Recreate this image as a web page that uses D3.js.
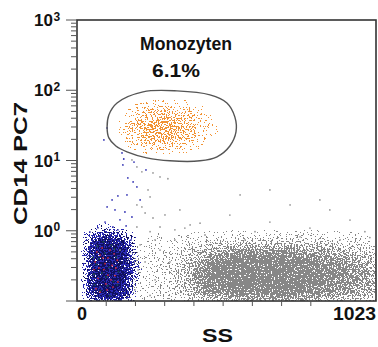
<!DOCTYPE html>
<html>
<head>
<meta charset="utf-8">
<title>Monozyten</title>
<script src="https://cdn.jsdelivr.net/npm/d3@7"></script>
<style>
body { margin: 0; background: #fff; }
text { font-family: "Liberation Sans", Arial, sans-serif; font-weight: bold; fill: #111; }
</style>
</head>
<body>
<script>
var width = 378, height = 347;

// ---- data ----
// density cells: one string per row, one digit (0-9) per SS bin of 32 units,
// rows are 0.1 decade of CD14 starting at rowStart (row 0 = 10^-1 .. 10^-0.9)
var binWidth = 32, rowHeight = 0.1;

var grayStart = 0;
var grayRows = [
  "00000111122345668888888877665544",
  "00000111223457889999999988776655",
  "00000111223468999999999998877665",
  "00000111223468999999999999887766",
  "00000111223468999999999999887766",
  "00000111223457899999999988777655",
  "00000111122345678888888877665544",
  "00000011112234456666666655544332",
  "00000001111122233333333333322221",
  "00000000101011111111111111111110"
];

var blueStart = 0;
var blueRows = [
  "0488740",
  "0699950",
  "0699960",
  "0699961",
  "0699971",
  "0699961",
  "0699960",
  "0699960",
  "0489740",
  "0256410",
  "0011000"
];

var orangeStart = 21;
var orangeRows = [
  "00000012332210000",
  "00000246776531000",
  "00001368998653100",
  "00001479999764210",
  "00001368998753100",
  "00000246776542100",
  "00000123443321000",
  "00000001111100000"
];

// single events [SS, CD14]
var redPts = [[62,0.36],[79,0.45],[92,0.28],[106,0.41],[120,0.32],[72,0.21],[99,0.175],[130,0.23],
  [86,0.57],[113,0.53],[65,0.15],[138,0.38],[96,0.34],[79,0.134],[123,0.158],[106,0.234],[58,0.28],
  [140,0.187],[89,0.41],[116,0.2],[75,0.295],[133,0.295],[103,0.144],[68,0.5],[127,0.47]];
var tealPts = [[55,0.42],[70,0.6],[85,0.25],[110,0.3],[125,0.19],[60,0.17],[95,0.48],[135,0.42],
  [80,0.14],[118,0.62],[100,0.22],[66,0.33],[142,0.26],[90,0.7],[112,0.12],[75,0.4],[128,0.55],
  [105,0.165],[58,0.24],[138,0.17]];
var bluePts = [[154,12.8],[157,8.65],[205,4.2],[171,3.24],[140,3.13],[103,2.18],[188,1.57],[147,1.43],
  [123,1.13],[79,0.82],[113,0.87],[103,29],[92,19.6],[174,5.65],[130,1.98],[216,2.75],[160,10.5],[195,9.5],
  [72,1.1],[96,1.33],[140,1.03],[164,1.85],[120,2.75],[192,4.96],[236,7.35],[168,1.17],[44,0.96],[185,0.74]];
var grayPts = [[188,10.2],[205,8.1],[222,6.9],[260,6.65],[284,5.84],[311,5.5],[243,3.81],[250,3.03],
  [205,2.33],[222,2.18],[233,1.79],[260,1.52],[205,1.13],[284,1.13],[335,1.03],[387,1.21],[523,1.67],
  [660,1.33],[797,1.09],[934,1.42],[985,0.97],[609,0.97],[438,0.87],[865,1.98],[729,2.33],[558,3.24],
  [352,1.98],[267,0.74],[301,1.68],[335,0.74],[369,1.09],[250,0.97],[216,0.63],[284,0.53],[233,0.36],
  [267,0.2],[198,0.144],[318,0.36],[421,1.28],[575,0.74],[763,0.82],[900,0.74],[1002,0.8],[831,2.75],
  [660,3.81],[147,0.53],[209,0.277],[250,0.12]];

// gate drawn round the monocytes
var gate = [[103,30.1],[109,21],[133,16.1],[171,13.3],[239,10.9],[318,9.9],[421,9.9],[479,11.3],
  [523,16.1],[544,25.5],[540,41.8],[513,66],[455,86],[342,98],[226,95],[137,66],[109,44.6]];

var xTicks = [100, 200, 300, 400, 500, 600, 700, 800];
var yLabels = [0, 1, 2, 3];

// ---- scales ----
var x = d3.scaleLinear().domain([0, 1023]).range([77, 376]);
var y = d3.scaleLog().domain([0.1, 1000]).range([301, 20]);

var svg = d3.select("body").append("svg")
    .attr("width", width)
    .attr("height", height);
var defs = svg.append("defs");

defs.append("clipPath").attr("id", "plot")
  .append("rect")
    .attr("x", x(0)).attr("y", y(1000))
    .attr("width", x(1023) - x(0)).attr("height", y(0.1) - y(1000));

// blurred density -> speckled dots (noise threshold), only where density exists
var onTable = "0 " + d3.range(19).map(function() { return 1; }).join(" ");
function speckle(id, color, seed, blur) {
  var f = defs.append("filter").attr("id", id)
      .attr("filterUnits", "userSpaceOnUse")
      .attr("x", 0).attr("y", 0).attr("width", width).attr("height", height)
      .attr("color-interpolation-filters", "sRGB");
  f.append("feGaussianBlur").attr("in", "SourceAlpha").attr("stdDeviation", blur).attr("result", "d");
  f.append("feComponentTransfer").attr("in", "d").attr("result", "mask")
    .append("feFuncA").attr("type", "discrete").attr("tableValues", onTable);
  f.append("feTurbulence").attr("type", "fractalNoise").attr("baseFrequency", 0.65)
      .attr("numOctaves", 2).attr("seed", seed).attr("result", "t");
  f.append("feColorMatrix").attr("in", "t").attr("type", "matrix")
      .attr("values", "0 0 0 0 0  0 0 0 0 0  0 0 0 0 0  1 0 0 0 0").attr("result", "n");
  f.append("feComposite").attr("in", "d").attr("in2", "n").attr("operator", "arithmetic")
      .attr("k1", 0).attr("k2", 1).attr("k3", 2.4).attr("k4", -1.2).attr("result", "s");
  f.append("feComponentTransfer").attr("in", "s").attr("result", "m")
    .append("feFuncA").attr("type", "discrete").attr("tableValues", "0 1");
  f.append("feComposite").attr("in", "m").attr("in2", "mask").attr("operator", "in").attr("result", "mm");
  f.append("feFlood").attr("flood-color", color);
  f.append("feComposite").attr("in2", "mm").attr("operator", "in");
}

function cells(rows, start) {
  var out = [];
  rows.forEach(function(r, j) {
    for (var i = 0; i < r.length; i++) {
      var v = +r[i];
      if (v > 0) out.push({i: i, row: start + j, v: v});
    }
  });
  return out;
}

function population(rows, start, color, seed, blur, gain) {
  var id = "spk" + seed;
  speckle(id, color, seed, blur);
  var g = svg.append("g").attr("clip-path", "url(#plot)")
    .append("g").attr("filter", "url(#" + id + ")");
  g.selectAll("rect")
      .data(cells(rows, start))
    .enter().append("rect")
      .attr("shape-rendering", "crispEdges")
      .attr("x", function(d) { return x(d.i * binWidth); })
      .attr("width", function(d) { return x((d.i + 1) * binWidth) - x(d.i * binWidth); })
      .attr("y", function(d) { return y(Math.pow(10, -1 + (d.row + 1) * rowHeight)); })
      .attr("height", function(d) {
        return y(Math.pow(10, -1 + d.row * rowHeight)) - y(Math.pow(10, -1 + (d.row + 1) * rowHeight));
      })
      .attr("fill", "#000")
      .attr("fill-opacity", function(d) { return d.v / 9 * gain; });
}

population(grayRows, grayStart, "#878787", 3, 4, 0.88);
population(blueRows, blueStart, "#2a2ab4", 7, 3, 1.0);
population(blueRows, blueStart, "#10105e", 11, 3, 0.6);
population(orangeRows, orangeStart, "#f29232", 5, 3.5, 0.5);

function dots(data, color, r) {
  svg.append("g").attr("clip-path", "url(#plot)")
    .selectAll("circle")
      .data(data)
    .enter().append("circle")
      .attr("cx", function(d) { return x(d[0]); })
      .attr("cy", function(d) { return y(d[1]); })
      .attr("r", r)
      .attr("fill", color);
}
dots(grayPts, "#9a9a9a", 0.9);
dots(bluePts, "#3434b4", 0.9);
dots(tealPts, "#1c4a4a", 1);
dots(redPts, "#d42a3a", 0.9);

// gate
svg.append("path")
    .datum(gate)
    .attr("d", d3.line()
      .x(function(d) { return x(d[0]); })
      .y(function(d) { return y(d[1]); })
      .curve(d3.curveCatmullRomClosed))
    .attr("fill", "none")
    .attr("stroke", "#555")
    .attr("stroke-width", 1.4);

// frame
svg.append("rect")
    .attr("x", x(0)).attr("y", y(1000))
    .attr("width", x(1023) - x(0)).attr("height", y(0.1) - y(1000))
    .attr("fill", "none")
    .attr("stroke", "#333")
    .attr("stroke-width", 1.6);

// y ticks (log, outside left)
var yt = y.ticks();
svg.append("g").selectAll("line")
    .data(yt)
  .enter().append("line")
    .attr("x1", function(d) {
      var major = Math.abs(Math.log10(d) - Math.round(Math.log10(d))) < 1e-6;
      return x(0) - (major ? 11 : 6);
    })
    .attr("x2", x(0))
    .attr("y1", function(d) { return y(d); })
    .attr("y2", function(d) { return y(d); })
    .attr("stroke", "#555")
    .attr("stroke-width", 1);

// x ticks
svg.append("g").selectAll("line")
    .data(xTicks)
  .enter().append("line")
    .attr("x1", function(d) { return x(d); })
    .attr("x2", function(d) { return x(d); })
    .attr("y1", y(0.1))
    .attr("y2", y(0.1) + 5)
    .attr("stroke", "#555");

// y tick labels 10^n
var yl = svg.append("g").selectAll("g")
    .data(yLabels)
  .enter().append("g");
yl.append("text")
    .attr("x", 53)
    .attr("y", function(d) { return y(Math.pow(10, d)) + 6; })
    .attr("text-anchor", "end")
    .style("font-size", "17px")
    .text("10");
yl.append("text")
    .attr("x", 53.5)
    .attr("y", function(d) { return y(Math.pow(10, d)) + 0.5; })
    .style("font-size", "12px")
    .text(function(d) { return d; });

// x tick labels
svg.append("text")
    .attr("x", x(0)).attr("y", 320)
    .style("font-size", "18px")
    .text("0");
svg.append("text")
    .attr("x", x(1023)).attr("y", 320)
    .attr("text-anchor", "end")
    .style("font-size", "18px")
    .attr("textLength", 43).attr("lengthAdjust", "spacingAndGlyphs")
    .text("1023");

// axis titles
svg.append("text")
    .attr("x", 202).attr("y", 342)
    .style("font-size", "19px")
    .attr("textLength", 31).attr("lengthAdjust", "spacingAndGlyphs")
    .text("SS");
svg.append("text")
    .attr("transform", "translate(27,225) rotate(-90)")
    .style("font-size", "19px")
    .attr("textLength", 123).attr("lengthAdjust", "spacingAndGlyphs")
    .text("CD14 PC7");

// gate label
svg.append("text")
    .attr("x", 140).attr("y", 50)
    .style("font-size", "19px")
    .attr("textLength", 92).attr("lengthAdjust", "spacingAndGlyphs")
    .text("Monozyten");
svg.append("text")
    .attr("x", 152).attr("y", 77)
    .style("font-size", "19px")
    .attr("textLength", 48).attr("lengthAdjust", "spacingAndGlyphs")
    .text("6.1%");
</script>
</body>
</html>
